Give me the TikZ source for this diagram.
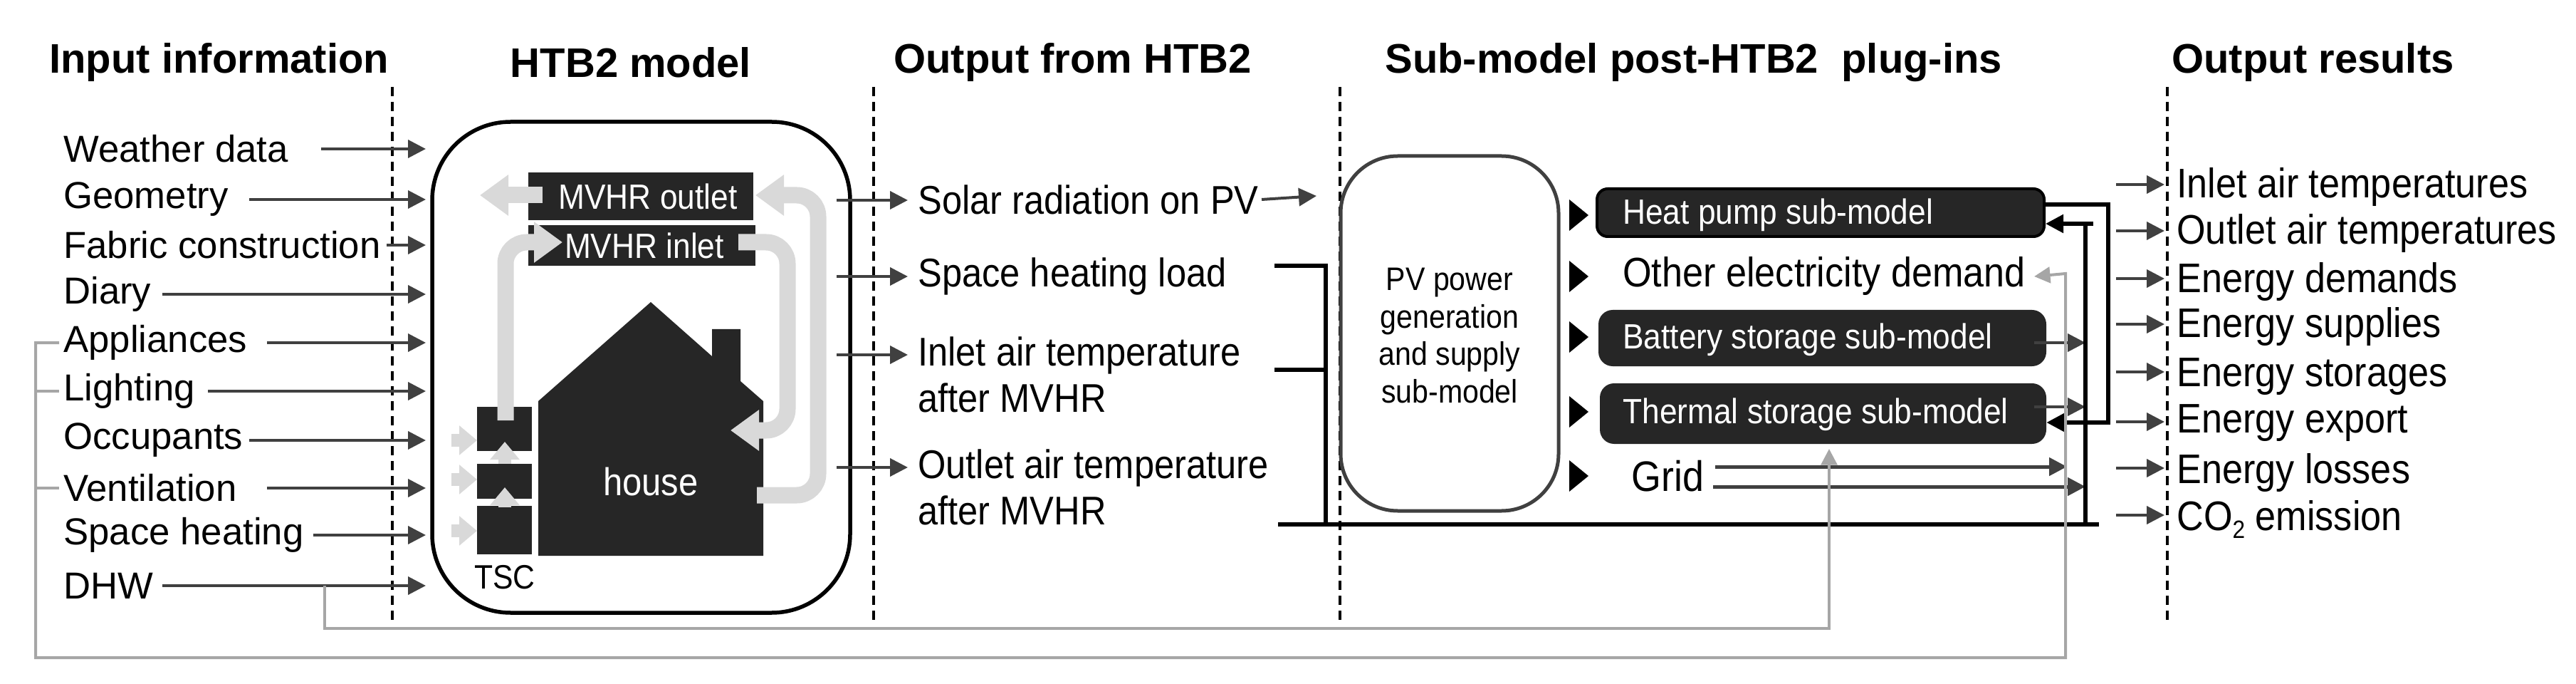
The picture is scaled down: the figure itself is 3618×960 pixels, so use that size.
\documentclass[tikz,border=0pt]{standalone}
\usepackage{fontspec}
\setmainfont{Liberation Sans}
\newfontfamily\narrowf{Liberation Sans}[FakeStretch=0.9]
\usetikzlibrary{arrows.meta}
\definecolor{dk}{HTML}{404040}
\definecolor{box}{HTML}{262626}
\definecolor{lg}{HTML}{A6A6A6}
\definecolor{band}{HTML}{D9D9D9}
\begin{document}
\begin{tikzpicture}[x=0.2mm,y=-0.2mm,
  hdr/.style={font=\fontsize{33}{36}\selectfont\bfseries,inner sep=0,anchor=west},
  inp/.style={font=\fontsize{30}{32}\selectfont,inner sep=0,anchor=west},
  outp/.style={font=\narrowf\fontsize{32}{37}\selectfont,inner sep=0,anchor=west,align=left},
  res/.style={font=\narrowf\fontsize{33}{36}\selectfont,inner sep=0,anchor=west},
  sub/.style={font=\narrowf\fontsize{28}{30}\selectfont,text=white,inner sep=0,anchor=west},
  arr/.style={draw=dk,line width=0.8mm,-{Triangle[length=5mm,width=5mm]}},
  barr/.style={draw=black,line width=1.1mm,-{Triangle[length=5mm,width=5mm]}},
  garr/.style={draw=lg,line width=0.8mm,-{Triangle[length=4.5mm,width=4.5mm]}},
  gline/.style={draw=lg,line width=0.8mm},
  bl/.style={draw=black,line width=1.1mm},
  bandarr/.style={draw=band,line width=4.6mm,rounded corners=6mm,-{Triangle[length=8mm,width=11mm]}},
  smallband/.style={draw=band,line width=3.6mm,-{Triangle[length=5mm,width=8mm]}},
  vsep/.style={draw=black,line width=0.8mm,dash pattern=on 2.6mm off 1.6mm},
  tri/.style={fill=black}
]
\useasboundingbox (0,0) rectangle (3618,960);

% headers
\node[hdr] (h1) at (69,88) {Input information};
\node[hdr,anchor=center] (h2) at (886,88) {HTB2 model};
\node[hdr] (h3) at (1255,88) {Output from HTB2};
\node[hdr] (h4) at (1945,88) {Sub-model post-HTB2\ \ plug-ins};
\node[hdr] (h5) at (3050,88) {Output results};

% separators
\foreach \x/\n in {551/s1,1227/s2,1882/s3,3044/s4}{
  \coordinate (\n t) at (\x,122); \coordinate (\n b) at (\x,870);
  \draw[vsep] (\n t) -- (\n b);}

% HTB2 box
\node[draw=black,line width=1.1mm,rounded corners=22mm,minimum width=587*0.2mm,minimum height=689*0.2mm,inner sep=0] (hb) at (900.5,515.5) {};

% inputs
\foreach \t/\y/\s/\n in {Weather data/209/451/i1,Geometry/280/350/i2,Fabric construction/344/543/i3,Diary/413/228/i4,Appliances/481/375/i5,Lighting/549/292/i6,Occupants/618/350/i7,Ventilation/685/375/i8,Space heating/751/440/i9,DHW/822/228/i10}{
  \node[inp] (\n) at (89,\y) {\t};
  \coordinate (\n s) at (\s,\y);
  \coordinate (\n e) at (598,\y);
  \draw[arr] (\n s) -- (\n e);}

% house interior
\node[fill=box,minimum width=316*0.2mm,minimum height=67*0.2mm,inner sep=0] (mo) at (900,275.5) {};
\node[font=\narrowf\fontsize{28}{30}\selectfont,text=white,inner sep=0] at (910,276) {MVHR outlet};
\node[fill=box,minimum width=319*0.2mm,minimum height=57*0.2mm,inner sep=0] (mi) at (901.5,344.5) {};
\node[font=\narrowf\fontsize{28}{30}\selectfont,text=white,inner sep=0] at (905,345) {MVHR inlet};
\fill[box] (756,780) -- (756,563) -- (914,424) -- (1000,500) -- (1000,462) -- (1040,462) -- (1040,535) -- (1072,563) -- (1072,780) -- cycle;
\node[font=\narrowf\fontsize{31}{33}\selectfont,text=white] (hs) at (914,676) {house};
\fill[box] (670,571) rectangle (747,633);
\fill[box] (670,651) rectangle (747,700);
\fill[box] (670,710) rectangle (747,778);
\node[font=\narrowf\fontsize{27}{29}\selectfont,inner sep=0] (tsc) at (709,810) {TSC};
% bands
\draw[bandarr] (710,590) -- (710,340) -- (790,340);
\draw[bandarr] (1037,340) -- (1106,340) -- (1106,604) -- (1026,604);
\draw[bandarr] (1063,695) -- (1149,695) -- (1149,274) -- (1061,274);
\draw[draw=band,line width=4.6mm,-{Triangle[length=8mm,width=11mm]}] (762,274) -- (674,274);
\foreach \y in {618,673,745}{\draw[smallband] (634,\y) -- (670,\y);}
\draw[smallband] (709,651) -- (709,620);
\draw[smallband] (709,712) -- (709,684);

% outputs from HTB2
\node[outp] (o1) at (1289,280) {Solar radiation on PV};
\node[outp] (o2) at (1289,388) {Space heating load};
\node[outp] (o3) at (1289,526) {Inlet air temperature\\after MVHR};
\node[outp] (o4) at (1289,684) {Outlet air temperature\\after MVHR};
\foreach \y/\n in {281/a1,388/a2,498/a3,656/a4}{
  \coordinate (\n s) at (1175,\y); \coordinate (\n e) at (1275,\y);
  \draw[arr] (\n s) -- (\n e);}
\coordinate (pvs) at (1772,280); \coordinate (pve) at (1849,275);
\draw[arr] (pvs) -- (pve);
\coordinate (b1) at (1790,373); \coordinate (b2) at (1862,373);
\coordinate (b3) at (1790,519); \coordinate (b4) at (1862,519);
\coordinate (b5) at (1862,736);
\coordinate (bl0) at (1795,736); \coordinate (bl1) at (2948,736);
\draw[bl] (b1) -- (b2) -- (b5);
\draw[bl] (b3) -- (b4);
\draw[bl] (bl0) -- (bl1);

% PV box
\node[draw=dk,line width=1mm,rounded corners=16mm,minimum width=306*0.2mm,minimum height=498*0.2mm,inner sep=0] (pv) at (2036,468) {};
\node[font=\narrowf\fontsize{26}{30}\selectfont,align=center,inner sep=0] at (2036,471) {PV power\\generation\\and supply\\sub-model};

% triangles
\foreach \y in {302,388,473,578,668}{\fill[tri] (2204,\y-22) -- (2231,\y) -- (2204,\y+22) -- cycle;}

% sub-model boxes
\node[fill=box,draw=black,line width=0.8mm,rounded corners=3mm,minimum width=628*0.2mm,minimum height=67*0.2mm,inner sep=0] (hp) at (2557,298.5) {};
\node[sub] at (2279,302) {Heat pump sub-model};
\node[outp,font=\narrowf\fontsize{33}{35}\selectfont] (oe) at (2279,388) {Other electricity demand};
\node[fill=box,rounded corners=4mm,minimum width=629*0.2mm,minimum height=79*0.2mm,inner sep=0] (bs) at (2559.5,474.5) {};
\node[sub] at (2279,477) {Battery storage sub-model};
\node[fill=box,rounded corners=4mm,minimum width=627*0.2mm,minimum height=85*0.2mm,inner sep=0] (ts) at (2560.5,580.5) {};
\node[sub] at (2279,582) {Thermal storage sub-model};
\node[outp,font=\narrowf\fontsize{34}{36}\selectfont] (gr) at (2291,668) {Grid};

% connections at right
\coordinate (g1s) at (2409,655); \coordinate (g1e) at (2903,655);
\coordinate (g2s) at (2406,683); \coordinate (g2e) at (2929,683);
\draw[arr,line width=1mm] (g1s) -- (g1e);
\draw[arr,line width=1mm] (g2s) -- (g2e);
\coordinate (bso) at (2857,481); \coordinate (bse) at (2929,481);
\coordinate (tso) at (2857,571); \coordinate (tse) at (2929,571);
\draw[arr] (bso) -- (bse);
\draw[arr] (tso) -- (tse);
\coordinate (v1) at (2929,314); \coordinate (v2) at (2929,736);
\draw[bl] (v1) -- (v2);
\coordinate (hpin) at (2940,314);
\draw[barr] (hpin) -- (hp.east |- hpin);
\coordinate (lp1) at (2871,287); \coordinate (lp2) at (2961,287); \coordinate (lp3) at (2961,593);
\draw[barr] (lp1) -- (lp2) -- (lp3) -- (ts.east |- lp3);

% gray feedback lines
\coordinate (q1) at (83,481); \coordinate (q2) at (50,481); \coordinate (q3) at (50,923);
\coordinate (q4) at (2901,923); \coordinate (q5) at (2901,384); \coordinate (q6) at (2857,388);
\draw[garr] (q1) -- (q2) -- (q3) -- (q4) -- (q5) -- (q6);
\coordinate (q7) at (50,549); \coordinate (q8) at (83,549);
\coordinate (q9) at (50,685); \coordinate (q10) at (83,685);
\draw[gline] (q7) -- (q8); \draw[gline] (q9) -- (q10);
\coordinate (d1) at (456,822); \coordinate (d2) at (456,882); \coordinate (d3) at (2569,882); \coordinate (d4) at (2569,630);
\draw[garr] (d1) -- (d2) -- (d3) -- (d4);

% output results
\foreach \t/\y/\ya/\n in {Inlet air temperatures/263/259/r1,Outlet air temperatures/328/324/r2,Energy demands/396/391/r3,Energy supplies/459/455/r4,Energy storages/529/522/r5,Energy export/594/592/r6,Energy losses/664/657/r7,{CO\raisebox{-0.35ex}{\fontsize{20}{20}\selectfont 2} emission}/729/723/r8}{
  \node[res] (\n) at (3057,\y) {\t};
  \coordinate (\n s) at (2972,\ya); \coordinate (\n e) at (3040,\ya);
  \draw[arr] (\n s) -- (\n e);}
\end{tikzpicture}
\end{document}
